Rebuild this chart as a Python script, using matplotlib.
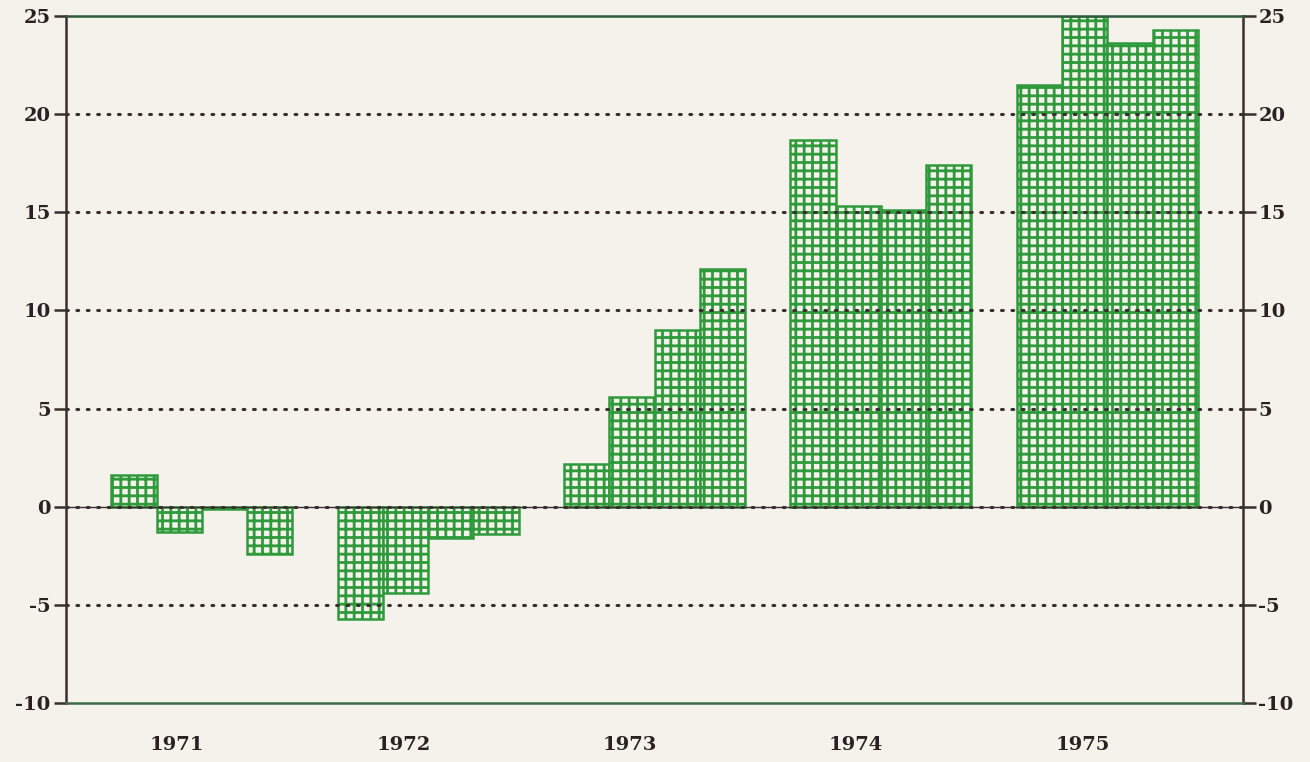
import numpy as np
import matplotlib
matplotlib.use("Agg")
import matplotlib.pyplot as plt

# quarterly values per year
years = ["1971", "1972", "1973", "1974", "1975"]
q1971 = [1.6, -1.3, -0.1, -2.4]
q1972 = [-5.7, -4.4, -1.6, -1.4]
q1973 = [2.2, 5.6, 9.0, 12.1]
q1974 = [18.7, 15.3, 15.1, 17.4]
q1975 = [21.5, 25.0, 23.6, 24.3]
yticks = [-10, -5, 0, 5, 10, 15, 20, 25]
grid_levels = [-5, 5, 10, 15, 20]

paper = "#f4f2eb"
green = "#2f9a3c"
ink = "#3a2f2f"

plt.rcParams["hatch.linewidth"] = 2.0
plt.rcParams["axes.unicode_minus"] = False

fig = plt.figure(figsize=(13.1, 7.62), dpi=100, facecolor=paper)
ax = fig.add_axes([0.0504, 0.0774, 0.8985, 0.9016], facecolor=paper)

all_q = [q1971, q1972, q1973, q1974, q1975]
for k, vals in enumerate(all_q):
    xs = np.arange(4) + 1 + 5 * k
    ax.bar(xs, vals, width=1.0, align="edge", facecolor=paper,
           edgecolor=green, hatch="++", linewidth=1.8, zorder=2)

# dotted grid drawn over the bars, like the plotter did
for lev in grid_levels:
    ax.axhline(lev, color=ink, lw=2.2, ls=(0, (0.6, 2.8)),
               dash_capstyle="round", zorder=3)
ax.axhline(0, color=ink, lw=1.0, zorder=3)
ax.axhline(0, color=ink, lw=2.2, ls=(0, (0.6, 2.8)),
           dash_capstyle="round", zorder=3)

ax.set_xlim(0, 26)
ax.set_ylim(-10, 25)
ax.set_yticks(yticks)
ax.set_xticks(np.arange(5) * 5 + 2.45)
ax.set_xticklabels(years)

for side in ["left", "right"]:
    ax.spines[side].set_color(ink)
    ax.spines[side].set_linewidth(1.8)
ax.spines["top"].set_color("#2d5a3a")
ax.spines["bottom"].set_color("#3d6a4a")
ax.spines["top"].set_linewidth(1.8)
ax.spines["bottom"].set_linewidth(1.8)

ax.tick_params(axis="y", left=True, right=True, labelleft=True,
               labelright=True, direction="out", length=9, width=1.8,
               color=ink, pad=2, labelsize=14, labelcolor="#2a2222")
ax.tick_params(axis="x", length=0, pad=24, labelsize=14,
               labelcolor="#2a2222")
for t in ax.yaxis.get_major_ticks() + ax.xaxis.get_major_ticks():
    for lab in (t.label1, t.label2):
        lab.set_fontweight("bold")
        lab.set_family("DejaVu Serif")

fig.savefig("out.png", dpi=100, facecolor=paper)
